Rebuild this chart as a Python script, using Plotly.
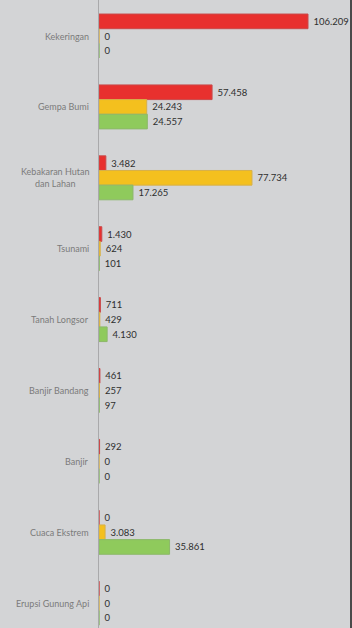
import plotly.graph_objects as go

categories = ["Kekeringan", "Gempa Bumi", "Kebakaran Hutan<br>dan Lahan", "Tsunami",
              "Tanah Longsor", "Banjir Bandang", "Banjir", "Cuaca Ekstrem", "Erupsi Gunung Api"]
series_red = [106209, 57458, 3482, 1430, 711, 461, 292, 0, 0]
series_yellow = [0, 24243, 77734, 624, 429, 257, 0, 3083, 0]
series_green = [0, 24557, 17265, 101, 4130, 97, 0, 35861, 0]

colors = ["#e8302e", "#f4c01e", "#8fca5c"]
edges = ["#c9494a", "#d6b04a", "#8cb86a"]
series = [series_red, series_yellow, series_green]

fig = go.Figure()
for vals, c, e in zip(series, colors, edges):
    fig.add_trace(go.Bar(
        y=categories, x=vals, orientation="h",
        marker=dict(color=c, line=dict(color=e, width=1)),
        texttemplate="\u00a0%{x:,}", textposition="outside",
        textfont=dict(family="Lato", size=9.5, color="#2e2e2e"),
        cliponaxis=False, showlegend=False, hoverinfo="skip",
    ))

for cat in categories:
    fig.add_annotation(
        xref="paper", yref="y", x=0, y=cat, xshift=-8, xanchor="right",
        text=cat, showarrow=False, align="center",
        font=dict(family="Lato", size=9, color="#7b7b7b"),
    )

fig.add_shape(type="rect", xref="paper", yref="paper", x0=1, x1=1.012, y0=0, y1=1,
              line=dict(width=0), fillcolor="#4a4a4a", layer="above")

fig.update_layout(
    width=352, height=628,
    margin=dict(l=99, r=2, t=0, b=0),
    barmode="group", bargap=0.38, bargroupgap=0,
    paper_bgcolor="#d3d4d6", plot_bgcolor="#d3d4d6",
    separators=",.",
    xaxis=dict(range=[0, 127553], visible=False, fixedrange=True),
    yaxis=dict(range=[8.35, -0.508], showticklabels=False, showgrid=False, fixedrange=True,
               showline=True, linecolor="#a9a9ab", linewidth=1, ticks="", zeroline=False),
)
fig.write_html("out.html", config={"displayModeBar": False, "staticPlot": True},
               post_script="document.body.style.margin='0';document.body.style.overflow='hidden';")
